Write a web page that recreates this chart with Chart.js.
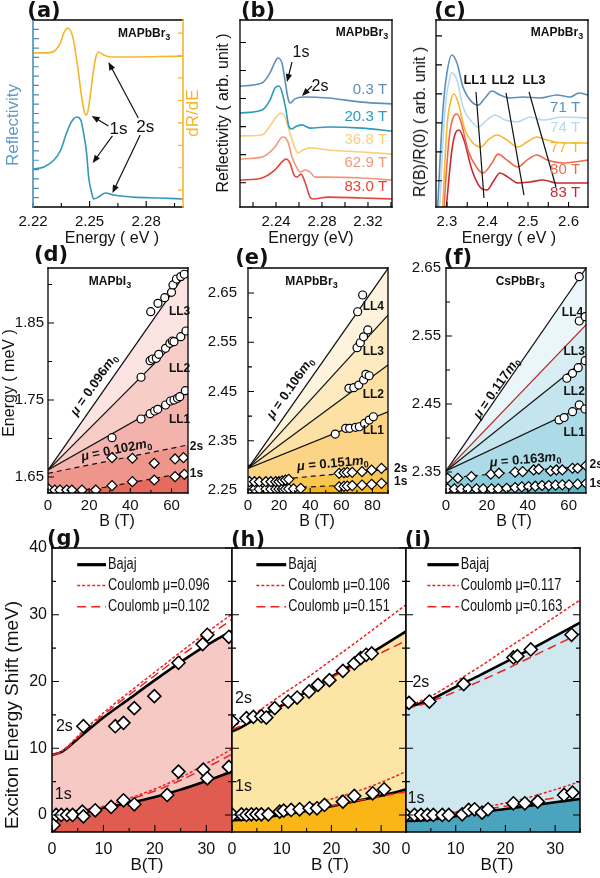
<!DOCTYPE html>
<html>
<head>
<meta charset="utf-8">
<script src="https://cdn.jsdelivr.net/npm/chart.js@4.4.1/dist/chart.umd.min.js"></script>
<style>
html,body{margin:0;padding:0;background:#fff;}
#wrap{position:relative;width:600px;height:878px;overflow:hidden;background:#fff;}
#wrap canvas{position:absolute;}
.t{position:absolute;white-space:nowrap;line-height:1;}
</style>
</head>
<body>
<div id="wrap"></div>
<script>
// ================= DATA =================
// (a) MAPbBr3: reflectivity and dR/dE (arb. units)
const aEnergyDeriv = [2.2203,2.2279,2.2321,2.2347,2.2363,2.2384,2.2411,2.2437,2.2458,2.2474,2.2484,2.2495,2.2516,2.2532,2.2547,2.2574,2.2610,2.2994];
const aDerivative  = [82.4,82.4,84.0,88.2,93.0,95.7,90.9,74.9,58.8,50.3,49.2,53.5,69.5,79.7,82.9,81.3,80.2,80.7];
const aEnergyRefl  = [2.2203,2.2258,2.2311,2.2347,2.2374,2.2400,2.2432,2.2453,2.2468,2.2484,2.2495,2.2511,2.2521,2.2547,2.2584,2.2626,2.2731,2.2873,2.2994];
const aReflectivity= [20.3,21.4,25.1,30.5,38.5,44.9,48.1,46.5,39.6,28.9,16.0,7.5,4.3,5.3,7.5,6.4,5.3,4.8,4.3];
const aXTicks = [2.22,2.235,2.25,2.265,2.28,2.295];
const aXLabels = [2.22,2.25,2.28];
const aYTicks = [5,10,15,20,25,30,35,40,45,50,55,60,65,70,75,80,85,90,95];
const aY2Ticks = [9,21,33,45,57,69,81,93];

// (b) MAPbBr3 reflectivity at several fields
const bFields = ['0.3 T','20.3 T','36.8 T','62.9 T','83.0 T'];
const bE03  = [2.2087,2.2278,2.2348,2.2391,2.2417,2.2452,2.2478,2.2504,2.2522,2.2565,2.2635,2.2852,2.3148,2.3409];
const bR03  = [64.7,66.3,71.7,77.5,79.7,77.0,67.9,58.3,55.6,57.8,58.8,58.3,56.1,55.1];
const bE203 = [2.2087,2.2278,2.2348,2.2391,2.2426,2.2452,2.2487,2.2513,2.2539,2.2565,2.2626,2.2696,2.2852,2.3148,2.3409];
const bR203 = [50.3,51.9,57.2,63.6,64.7,61.5,51.9,42.8,41.7,42.8,43.9,42.2,42.8,42.2,40.6];
const bE368 = [2.2087,2.2278,2.2365,2.2417,2.2444,2.2478,2.2522,2.2565,2.2591,2.2635,2.2696,2.2852,2.3148,2.3409];
const bR368 = [38.0,38.5,44.9,49.2,50.3,48.1,39.6,31.6,28.9,30.5,31.6,30.5,29.4,28.3];
const bE629 = [2.2087,2.2278,2.2391,2.2444,2.2461,2.2504,2.2539,2.2583,2.2609,2.2652,2.2696,2.2739,2.2852,2.3148,2.3409];
const bR629 = [25.7,26.7,32.1,36.9,37.4,34.8,26.7,20.9,18.7,19.8,18.7,16.0,16.0,15.5,14.4];
const bE830 = [2.2087,2.2278,2.2391,2.2452,2.2487,2.2522,2.2557,2.2583,2.2618,2.2652,2.2696,2.2722,2.2852,2.3148,2.3409];
const bR830 = [14.4,15.5,19.8,24.1,25.7,23.5,17.1,16.0,17.6,13.4,5.3,4.3,5.3,4.8,4.3];
const bXTicks = [2.22,2.24,2.26,2.28,2.30,2.32,2.34];
const bXLabels = [2.24,2.28,2.32];
const bYTicks = [13,28,43,58,73,88];

// (c) MAPbBr3 R(B)/R(0)
const cFields = ['71 T','74 T','77 T','80 T','83 T'];
const c71E = [2.2753,2.2901,2.3,2.3123,2.3247,2.3395,2.3617,2.3765,2.3938,2.4111,2.4309,2.4556,2.4877,2.5296,2.5716,2.6037,2.6259,2.6481];
const c71R = [-8,51.9,71.7,81.3,77.0,64.2,56.1,54.5,58.3,62.0,59.9,58.3,58.8,58.3,59.9,58.8,61.0,59.9];
const c74E = [2.2802,2.2951,2.3049,2.3123,2.3247,2.3395,2.3617,2.3765,2.3988,2.4185,2.4432,2.4728,2.5049,2.5370,2.5864,2.6481];
const c74R = [-8,51.9,66.8,71.7,67.9,53.5,45.5,42.8,46.5,49.2,46.5,45.5,48.1,46.5,48.1,47.6];
const c77E = [2.2877,2.3,2.3099,2.3173,2.3272,2.3444,2.3642,2.3840,2.4012,2.4235,2.4481,2.4753,2.4975,2.5222,2.5469,2.5864,2.6481];
const c77R = [-8,42.8,57.2,60.4,56.1,41.2,34.2,32.1,35.8,38.5,35.8,32.1,34.8,37.4,35.8,34.2,34.2];
const c80E = [2.2901,2.3049,2.3148,2.3247,2.3346,2.3518,2.3741,2.3889,2.4111,2.4259,2.4481,2.4753,2.4975,2.5222,2.5469,2.5864,2.6481];
const c80R = [-8,35.8,47.6,49.7,45.5,30.5,20.9,18.2,23.5,28.3,25.1,21.4,25.1,27.8,25.1,23.5,25.1];
const c83E = [2.2951,2.3123,2.3222,2.3296,2.3420,2.3617,2.3815,2.3988,2.4136,2.4309,2.4506,2.4753,2.5049,2.5370,2.5716,2.6481];
const c83R = [-8,30.5,40.1,41.2,35.8,19.8,10.7,9.1,13.4,18.2,16.0,12.8,13.4,14.4,12.8,12.8];
const cLL1E = [2.3716,2.3914], cLL1R = [61.5,4.8];
const cLL2E = [2.4457,2.4901], cLL2R = [61.0,6.4];
const cLL3E = [2.5025,2.5691], cLL3R = [61.5,10.7];
const cXTicks = [2.3,2.35,2.4,2.45,2.5,2.55,2.6];
const cXLabels = [2.3,2.4,2.5,2.6];
const cYTicks = [14,29.5,45,60.5,76,91.5];

// (d) MAPbI3 fan chart
const dLineB = [0,68];
const dLL3 = [1.659,1.919], dLL2 = [1.659,1.841], dLL1 = [1.659,1.762], d2sFit = [1.6548,1.6916];
const d1sFitB = [0,22,68], d1sFit = [1.632,1.634,1.656];
const dLL3B = [49.9,53.4,56.7,60.0,60.7,62.4,64.5,66.2];
const dLL3E = [1.8647,1.8755,1.8829,1.8898,1.8994,1.9071,1.9102,1.9133];
const dLL2B = [45.2,49.6,50.8,52.6,53.8,57.1,59.2,60.4,61.2,64.5,67.0];
const dLL2E = [1.7795,1.8011,1.8032,1.8041,1.8093,1.8171,1.8236,1.8266,1.8257,1.8322,1.8396];
const dLL1B = [31.1,45.2,49.6,51.8,53.3,57.1,59.5,61.2,62.9,64.0,66.7];
const dLL1E = [1.7010,1.7253,1.7322,1.7357,1.7379,1.7435,1.7487,1.75,1.7522,1.7543,1.7621];
const d2sB = [31.1,41.0,51.6,61.7,65.8];
const d2sE = [1.6751,1.6743,1.6678,1.6734,1.6751];
const d1sB = [0.3,3.3,5.8,9.1,11.6,16.5,23.2,31.1,41.0,51.6,61.7,66.2];
const d1sE = [1.6344,1.6331,1.6331,1.6331,1.6331,1.6331,1.6331,1.6387,1.6439,1.6461,1.6504,1.6535];
const dXTicks = [0,10,20,30,40,50,60], dXLabels = [0,20,40,60];
const dYTicks = [1.65,1.70,1.75,1.80,1.85,1.90], dYLabels = [1.65,1.75,1.85];

// (e) MAPbBr3 fan chart
const eLineB = [0,90];
const eLL4 = [2.2941,2.70], eLL3 = [2.2941,2.6053], eLL2 = [2.2941,2.5038], eLL1 = [2.2941,2.409];
const e2sFit = [2.266,2.292], e1sFit = [2.251,2.2635];
const eLL4B = [70.5,73.7], eLL4E = [2.612,2.646];
const eLL3B = [70.1,72.2,74.3,77.0], eLL3E = [2.539,2.549,2.561,2.575];
const eLL2B = [64.9,68.0,71.2,74.3,75.8,77.9], eLL2E = [2.4565,2.4578,2.4632,2.4734,2.485,2.482];
const eLL1B = [56.1,62.8,65.3,69.1,71.6,74.9,77.9,80.6], eLL1E = [2.3637,2.3753,2.3753,2.3773,2.3785,2.3853,2.3921,2.3988];
const e2sB = [1.0,4.2,7.3,11.5,14.7,17.8,19.9,22.0,24.1,26.2,58.6,61.7,63.8,67.0,73.3,79.5,85.8];
const e2sE = [2.2669,2.2669,2.2669,2.2669,2.2669,2.2669,2.2669,2.2689,2.2703,2.2717,2.2839,2.2851,2.2860,2.2860,2.2873,2.2906,2.2940];
const e1sB = [1.0,4.2,7.3,11.5,14.7,17.8,19.9,22.0,24.1,26.2,29.3,33.9,58.6,61.7,63.8,67.0,73.3,79.5,85.8];
const e1sE = [2.252,2.252,2.252,2.252,2.252,2.252,2.252,2.252,2.252,2.2525,2.2525,2.2534,2.2567,2.2575,2.2580,2.2590,2.2600,2.2616,2.2636];
const eXTicks = [0,10,20,30,40,50,60,70,80,90], eXLabels = [0,20,40,60,80];
const eYTicks = [2.25,2.30,2.35,2.40,2.45,2.50,2.55,2.60,2.65,2.70], eYLabels = [2.25,2.35,2.45,2.55,2.65];

// (f) CsPbBr3 fan chart
const fLineB = [0,68.5];
const fLL4 = [2.3515,2.6496], fLL3 = [2.3515,2.5662], fLL2 = [2.3515,2.5162], fLL1 = [2.3515,2.4485];
const f2sFit = [2.3407,2.3593], f1sFit = [2.325,2.3334];
const fLL4B = [65.2], fLL4E = [2.6372];
const fLL3B = [65.2,68.1], fLL3E = [2.572,2.5784];
const fLL2B = [59.1,61.9,64.7,68.1], fLL2E = [2.4878,2.4951,2.5034,2.5137];
const fLL1B = [55.3,57.8,61.9,65.2,68.0], fLL1E = [2.4265,2.4299,2.4387,2.4485,2.4426];
const f2sB = [0.8,5.8,12.4,21.9,25.9,33.8,37.5,42.9,45.4,51.2,54.0,56.9,61.9,64.4,68.5];
const f2sE = [2.3407,2.3407,2.3431,2.3466,2.3481,2.3496,2.3504,2.3529,2.3540,2.3515,2.3529,2.3529,2.3554,2.3554,2.3593];
const f1sB = [0.8,4.1,7.4,10.7,14.9,18.2,22.3,25.6,29.7,33.8,37.1,40.4,43.7,47.0,50.3,53.6,56.9,60.2,64.4,68.5];
const f1sE = [2.325,2.325,2.325,2.325,2.325,2.325,2.325,2.325,2.326,2.327,2.328,2.3285,2.329,2.33,2.33,2.3305,2.331,2.331,2.332,2.333];
const fXTicks = [0,10,20,30,40,50,60], fXLabels = [0,20,40,60];
const fYTicks = [2.35,2.40,2.45,2.50,2.55,2.60,2.65], fYLabels = [2.35,2.45,2.55,2.65];

// (g)(h)(i) exciton energy shift vs B
const sXTicks = [0,5,10,15,20,25,30,35], sXLabels = [0,10,20,30];
const sYTicks = [0,5,10,15,20,25,30,35,40], sYLabels = [0,10,20,30,40];
const curveB = [0,2,5,10,15,20,25,30,35];
// (g) MAPbI3
const gB2s = [6.1,12.3,13.9,16.0,19.9,24.6,29.3,30.2,34.4];
const gS2s = [13.3,13.3,13.8,16.0,17.8,22.8,25.6,27.0,26.7];
const gB1s = [0.3,0.8,1.8,2.9,4.0,5.9,6.1,8.4,11.5,13.9,16.0,22.4,24.6,29.4,30.2,34.4];
const gS1s = [-1.5,0,0,0,0,0.5,-0.2,0.7,1.2,2.2,1.6,3.0,6.5,6.8,5.5,7.2];
const gBajaj2s = [9.0,9.5,11.4,14.6,17.4,20.2,22.9,25.4,27.6];
const gC096_2s = [9.0,9.6,11.8,15.3,18.4,21.4,24.4,27.3,30.1];
const gC102_2s = [9.0,9.5,11.6,15.0,18.0,20.9,23.8,26.6,29.3];
const gBajaj1s = [0.3,0.3,0.5,1.1,1.8,2.7,3.8,5.1,6.5];
const gC096_1s = [0.3,0.3,0.6,1.3,2.5,3.9,5.6,7.7,9.9];
const gC102_1s = [0.3,0.3,0.5,1.2,2.3,3.6,5.2,7.1,9.1];
// (h) MAPbBr3
const hB2s = [0.1,2.9,4.3,5.9,6.9,8.6,11.3,13.1,15.5,17.3,19.6,22.3,24.6,25.9,27.0,28.1];
const hS2s = [14.0,14.5,14.7,14.8,14.6,16.0,17.0,17.6,18.5,19.5,20.2,21.6,22.7,23.5,24.0,24.2];
const hB1s = [0.1,1.9,2.9,3.9,4.9,5.9,7.3,9.6,10.4,11.9,13.6,15.6,17.1,18.6,22.3,24.6,28.3,30.6];
const hS1s = [0.0,0.1,0.0,0.1,0.1,0.1,0.1,0.5,0.65,0.75,0.85,1.0,1.0,1.5,2.0,2.85,3.25,3.85];
const hBajaj2s = [12.5,13.2,14.5,16.4,18.5,20.7,22.9,25.2,27.5];
const hC106_2s = [13.2,14.0,15.4,18.0,20.5,23.2,25.9,28.7,31.5];
const hC151_2s = [12.8,13.4,14.6,16.5,18.6,20.6,22.5,24.3,26.1];
const hBajaj1s = [-0.8,-0.7,-0.5,0.0,0.6,1.3,2.1,2.9,3.8];
const hC106_1s = [0.0,0.05,0.2,0.7,1.4,2.4,3.5,4.9,6.5];
const hC151_1s = [0.0,0.05,0.15,0.5,0.9,1.4,2.1,2.8,3.5];
// (i) CsPbBr3
const iB2s = [0.6,4.7,11.6,21.6,22.4,25.1,33.3];
const iS2s = [16.8,17.0,19.6,23.6,23.8,24.8,27.0];
const iB1s = [0,1.7,3.0,4.3,5.5,7.3,8.6,11.3,12.6,13.8,15.3,16.5,21.6,23.9,26.5,31.8,33.5];
const iS1s = [0,0,0,0,0,0,0,0.1,0.75,0.85,0.35,0.85,1.75,1.75,2.0,3.0,3.35];
const iBajaj2s = [16.0,16.5,17.3,19.2,21.0,22.9,24.8,26.8,28.8];
const iC117_2s = [16.2,16.8,17.8,20.0,22.3,24.8,27.2,29.7,32.2];
const iC163_2s = [16.0,16.3,17.0,18.5,20.1,21.8,23.6,25.4,27.2];
const iBajaj1s = [-0.9,-0.85,-0.7,-0.2,0.4,0.9,1.4,1.9,2.4];
const iC117_1s = [0,0.05,0.15,0.5,1.1,1.8,2.7,3.8,5.0];
const iC163_1s = [0,0.05,0.1,0.4,0.8,1.3,1.9,2.6,3.3];

// ================= HELPERS =================
const wrap = document.getElementById('wrap');
const FONT = "'Liberation Sans', Arial, Helvetica, sans-serif";
const REG = {};
const near = (list, v) => list.some(m => Math.abs(m - v) < 1e-6);
const xy = (xs, ys) => xs.map((x, i) => ({x: x, y: ys[i]}));

function axis(pos, min, max, tickVals, labelVals, dec, fixed, pad, size) {
  return {
    type: 'linear', position: pos, min: min, max: max, bounds: 'data',
    grid: {display: false, drawTicks: false}, border: {display: false},
    afterBuildTicks: s => { s.ticks = tickVals.map(v => ({value: v})); },
    afterFit: s => {
      if (pos === 'bottom') s.height = fixed; else s.width = fixed;
      s.paddingLeft = 0; s.paddingRight = 0; s.paddingTop = 0; s.paddingBottom = 0;
    },
    ticks: {
      display: labelVals.length > 0, autoSkip: false, maxRotation: 0, minRotation: 0,
      padding: pad, color: '#111', font: {family: FONT, size: size || 15},
      callback: v => near(labelVals, v) ? Number(v).toFixed(dec) : ''
    }
  };
}

function parseRich(s) {
  const parts = []; let it = false, buf = '';
  for (let i = 0; i < s.length; i++) {
    const c = s[i];
    if (c === '*') { if (buf) parts.push({s: buf, it: it}); buf = ''; it = !it; }
    else if (c === '_') { if (buf) parts.push({s: buf, it: it}); buf = ''; parts.push({s: s[i + 1], sub: true}); i++; }
    else buf += c;
  }
  if (buf) parts.push({s: buf, it: it});
  return parts;
}

function drawRich(ctx, str, x, y, o) {
  const parts = parseRich(str), size = o.size || 14, wt = o.bold ? 'bold ' : '';
  ctx.save(); ctx.translate(x, y); if (o.rot) ctx.rotate(o.rot); if (o.sx) ctx.scale(o.sx, 1);
  const fonts = parts.map(p => (p.it ? 'italic ' : '') + wt + (p.sub ? Math.round(size * 0.72) : size) + 'px ' + FONT);
  let W = 0;
  const ws = parts.map((p, i) => { ctx.font = fonts[i]; const w = ctx.measureText(p.s).width; W += w; return w; });
  let cx = o.align === 'left' ? 0 : o.align === 'right' ? -W : -W / 2;
  ctx.fillStyle = o.color || '#111'; ctx.textBaseline = 'middle'; ctx.textAlign = 'left';
  parts.forEach((p, i) => { ctx.font = fonts[i]; ctx.fillText(p.s, cx, p.sub ? size * 0.32 : 0); cx += ws[i]; });
  ctx.restore();
}

function arrowHead(ctx, x1, y1, x2, y2, color) {
  const ang = Math.atan2(y2 - y1, x2 - x1), L = 8, H = 3.2;
  ctx.strokeStyle = color; ctx.fillStyle = color; ctx.lineWidth = 1.2;
  ctx.beginPath(); ctx.moveTo(x1, y1); ctx.lineTo(x2 - 5 * Math.cos(ang), y2 - 5 * Math.sin(ang)); ctx.stroke();
  ctx.beginPath(); ctx.moveTo(x2, y2);
  ctx.lineTo(x2 - L * Math.cos(ang) + H * Math.sin(ang), y2 - L * Math.sin(ang) - H * Math.cos(ang));
  ctx.lineTo(x2 - L * Math.cos(ang) - H * Math.sin(ang), y2 - L * Math.sin(ang) + H * Math.cos(ang));
  ctx.closePath(); ctx.fill();
}

const deco = {
  id: 'deco',
  afterDraw(chart) {
    const R = REG[chart.canvas.id]; if (!R) return;
    const ctx = chart.ctx, ca = chart.chartArea, X = chart.scales.x, Y = chart.scales.y;
    ctx.save();
    ctx.lineCap = 'butt';
    for (const key of Object.keys(R.ticks)) {
      const s = chart.scales[key], T = R.ticks[key];
      ctx.strokeStyle = T.color || '#000'; ctx.lineWidth = T.w || 1.1; ctx.beginPath();
      for (const t of s.ticks) {
        if (t.value < s.min - 1e-9 || t.value > s.max + 1e-9) continue;
        const p = s.getPixelForValue(t.value);
        const L = (!T.maj || near(T.maj, t.value)) ? T.len : T.minor;
        if (s.isHorizontal()) {
          ctx.moveTo(p, ca.bottom); ctx.lineTo(p, ca.bottom - L);
          if (T.mirror) { ctx.moveTo(p, ca.top); ctx.lineTo(p, ca.top + L); }
        } else if (s.position === 'left') {
          ctx.moveTo(ca.left, p); ctx.lineTo(ca.left + L, p);
          if (T.mirror) { ctx.moveTo(ca.right, p); ctx.lineTo(ca.right - L, p); }
        } else {
          ctx.moveTo(ca.right, p); ctx.lineTo(ca.right - L, p);
        }
      }
      ctx.stroke();
    }
    const B = R.box; ctx.lineWidth = B.w || 1.2; ctx.lineCap = 'square';
    const seg = (c, x1, y1, x2, y2) => { ctx.strokeStyle = c; ctx.beginPath(); ctx.moveTo(x1, y1); ctx.lineTo(x2, y2); ctx.stroke(); };
    seg(B.top || '#000', ca.left, ca.top, ca.right, ca.top);
    seg(B.bottom || '#000', ca.left, ca.bottom, ca.right, ca.bottom);
    seg(B.left || '#000', ca.left, ca.top, ca.left, ca.bottom);
    seg(B.right || '#000', ca.right, ca.top, ca.right, ca.bottom);
    ctx.lineCap = 'butt';
    for (const a of (R.ann || [])) {
      if (a.k === 't') {
        let rot = 0;
        if (a.along) {
          const dx = X.getPixelForValue(a.along[2]) - X.getPixelForValue(a.along[0]);
          const dy = Y.getPixelForValue(a.along[3]) - Y.getPixelForValue(a.along[1]);
          rot = Math.atan2(dy, dx);
        }
        drawRich(ctx, a.s, X.getPixelForValue(a.x), Y.getPixelForValue(a.y), {size: a.size, bold: a.bold, color: a.color, align: a.align, rot: rot});
      } else if (a.k === 'a') {
        arrowHead(ctx, X.getPixelForValue(a.x1), Y.getPixelForValue(a.y1), X.getPixelForValue(a.x2), Y.getPixelForValue(a.y2), a.color || '#111');
      } else if (a.k === 'leg') {
        ctx.save(); ctx.strokeStyle = a.color; ctx.lineWidth = a.w; ctx.setLineDash(a.dash || []);
        const py = Y.getPixelForValue(a.y);
        ctx.beginPath(); ctx.moveTo(X.getPixelForValue(a.x1), py); ctx.lineTo(X.getPixelForValue(a.x2), py); ctx.stroke();
        ctx.restore();
        drawRich(ctx, a.s, X.getPixelForValue(a.tx), py, {size: 16, align: 'left', color: '#111', sx: 0.8});
      }
    }
    ctx.restore();
  }
};

function panel(id, plot, pad, scales, datasets, reg) {
  const w = plot[2] - plot[0] + pad[0] + pad[2];
  const h = plot[3] - plot[1] + pad[1] + pad[3];
  const cv = document.createElement('canvas');
  cv.id = id; cv.width = w; cv.height = h;
  cv.style.left = (plot[0] - pad[0]) + 'px'; cv.style.top = (plot[1] - pad[1]) + 'px';
  cv.style.width = w + 'px'; cv.style.height = h + 'px';
  wrap.appendChild(cv);
  REG[id] = reg;
  new Chart(cv, {
    type: 'line',
    data: {datasets: datasets},
    options: {
      responsive: false, maintainAspectRatio: false, animation: false, devicePixelRatio: 1, events: [],
      layout: {autoPadding: false, padding: {left: 0, top: pad[1], right: scales.y2 ? 0 : pad[2], bottom: 0}},
      plugins: {legend: {display: false}, tooltip: {enabled: false}},
      scales: scales
    },
    plugins: [deco]
  });
}

function curve(xs, ys, color, o) {
  return Object.assign({data: xy(xs, ys), borderColor: color, borderWidth: 1.6, pointRadius: 0, pointHoverRadius: 0,
    fill: false, cubicInterpolationMode: 'monotone'}, o || {});
}
function straight(xs, ys, color, o) {
  return Object.assign({data: xy(xs, ys), borderColor: color, borderWidth: 1.2, pointRadius: 0, pointHoverRadius: 0,
    fill: false, tension: 0}, o || {});
}
function marks(xs, ys, style, r, bw) {
  return {data: xy(xs, ys), showLine: false, pointStyle: style, pointRadius: r, pointHoverRadius: r,
    pointBackgroundColor: '#fff', pointBorderColor: '#000', pointBorderWidth: bw || 1.2, fill: false};
}

// ================= PANELS =================
// (a)
const TEAL = '#3399bb', ORANGE = '#f5b62c';
panel('pa', [33, 20, 183, 207], [33, 20, 8, 28], {
  x: axis('bottom', 2.22, 2.2995, aXTicks, aXLabels, 2, 28, 6, 15),
  y: axis('left', 0, 100, aYTicks, [], 0, 33, 0, 15),
  y2: axis('right', 0, 100, aY2Ticks, [], 0, 8, 0, 15)
}, [
  curve(aEnergyDeriv, aDerivative, ORANGE),
  curve(aEnergyRefl, aReflectivity, TEAL)
], {
  ticks: {x: {len: 6, minor: 4, maj: [2.25, 2.28]}, y: {len: 6, color: '#4a90b5', w: 1.2}, y2: {len: 5, color: ORANGE, w: 1.2}},
  box: {left: '#4a90b5', right: ORANGE, w: 1.6},
  ann: [
    {k: 't', x: 2.2789, y: 92.5, s: 'MAPbBr_3', size: 12, bold: 1},
    {k: 't', x: 2.2653, y: 41.7, s: '1s', size: 17},
    {k: 't', x: 2.2795, y: 42.8, s: '2s', size: 17},
    {k: 'a', x1: 2.2600, y1: 43.3, x2: 2.2511, y2: 48.7},
    {k: 'a', x1: 2.2621, y1: 38.0, x2: 2.2516, y2: 23.5},
    {k: 'a', x1: 2.2758, y1: 47.6, x2: 2.2600, y2: 77.5},
    {k: 'a', x1: 2.2768, y1: 38.5, x2: 2.2621, y2: 7.5}
  ]
});

// (b)
const bCol = ['#5f8fb8', '#2b9cc0', '#f8d07a', '#f3977a', '#e2463a'];
panel('pb', [240, 20, 392, 207], [24, 20, 6, 28], {
  x: axis('bottom', 2.2087, 2.3409, bXTicks, bXLabels, 2, 28, 6, 15),
  y: axis('left', 0, 100, bYTicks, [], 0, 24, 0, 15)
}, [
  curve(bE03, bR03, bCol[0]), curve(bE203, bR203, bCol[1]), curve(bE368, bR368, bCol[2]),
  curve(bE629, bR629, bCol[3]), curve(bE830, bR830, bCol[4])
], {
  ticks: {x: {len: 5, minor: 5}, y: {len: 6}},
  box: {w: 1.3},
  ann: [
    {k: 't', x: 2.3148, y: 93.0, s: 'MAPbBr_3', size: 12, bold: 1},
    {k: 't', x: 2.3366, y: 62.6, s: bFields[0], size: 15, align: 'right', color: bCol[0]},
    {k: 't', x: 2.3366, y: 48.1, s: bFields[1], size: 15, align: 'right', color: bCol[1]},
    {k: 't', x: 2.3366, y: 35.8, s: bFields[2], size: 15, align: 'right', color: bCol[2]},
    {k: 't', x: 2.3366, y: 23.5, s: bFields[3], size: 15, align: 'right', color: bCol[3]},
    {k: 't', x: 2.3366, y: 10.7, s: bFields[4], size: 15, align: 'right', color: bCol[4]},
    {k: 't', x: 2.2618, y: 82.4, s: '1s', size: 16},
    {k: 't', x: 2.2783, y: 64.2, s: '2s', size: 16},
    {k: 'a', x1: 2.2539, y1: 77.5, x2: 2.2496, y2: 66.8},
    {k: 'a', x1: 2.2713, y1: 64.7, x2: 2.2626, y2: 59.4}
  ]
});

// (c)
const cCol = ['#5b90bc', '#b5daee', '#f6b832', '#ee6a4e', '#c62a2f'];
panel('pc', [436, 20, 588, 207], [14, 20, 10, 28], {
  x: axis('bottom', 2.273, 2.648, cXTicks, cXLabels, 1, 28, 6, 15),
  y: axis('left', 0, 100, cYTicks, [], 0, 14, 0, 15)
}, [
  straight(cLL1E, cLL1R, '#111'), straight(cLL2E, cLL2R, '#111'), straight(cLL3E, cLL3R, '#111'),
  curve(c71E, c71R, cCol[0]), curve(c74E, c74R, cCol[1]), curve(c77E, c77R, cCol[2]),
  curve(c80E, c80R, cCol[3]), curve(c83E, c83R, cCol[4])
], {
  ticks: {x: {len: 5, minor: 5}, y: {len: 6}},
  box: {w: 1.3},
  ann: [
    {k: 't', x: 2.5716, y: 93.0, s: 'MAPbBr_3', size: 12, bold: 1},
    {k: 't', x: 2.3691, y: 67.9, s: 'LL1', size: 13, bold: 1},
    {k: 't', x: 2.4383, y: 67.9, s: 'LL2', size: 13, bold: 1},
    {k: 't', x: 2.5148, y: 67.9, s: 'LL3', size: 13, bold: 1},
    {k: 't', x: 2.6284, y: 52.9, s: cFields[0], size: 15, align: 'right', color: cCol[0]},
    {k: 't', x: 2.6284, y: 42.2, s: cFields[1], size: 15, align: 'right', color: cCol[1]},
    {k: 't', x: 2.6284, y: 31.6, s: cFields[2], size: 15, align: 'right', color: cCol[2]},
    {k: 't', x: 2.6284, y: 19.8, s: cFields[3], size: 15, align: 'right', color: cCol[3]},
    {k: 't', x: 2.6284, y: 7.5, s: cFields[4], size: 15, align: 'right', color: cCol[4]}
  ]
});

const DASH = [5, 4];
// (d)
panel('pd', [48, 268, 188, 493], [48, 20, 22, 22], {
  x: axis('bottom', 0, 68, dXTicks, dXLabels, 0, 22, 4, 15),
  y: axis('left', 1.6292, 1.9214, dYTicks, dYLabels, 2, 48, 4, 15)
}, [
  marks(dLL3B, dLL3E, 'circle', 4), marks(dLL2B, dLL2E, 'circle', 4), marks(dLL1B, dLL1E, 'circle', 4),
  marks(d2sB, d2sE, 'rectRot', 5), marks(d1sB, d1sE, 'rectRot', 5),
  straight(d1sFitB, d1sFit, '#111', {borderDash: DASH, fill: 'start', backgroundColor: '#e66a5e'}),
  straight(dLineB, d2sFit, '#111', {borderDash: DASH, fill: 'start', backgroundColor: '#ee958c'}),
  straight(dLineB, dLL1, '#111', {fill: 'start', backgroundColor: '#f3b3ac'}),
  straight(dLineB, dLL2, '#111', {fill: 'start', backgroundColor: '#f7cdc8'}),
  straight(dLineB, dLL3, '#111', {fill: 'start', backgroundColor: '#fbe4e1'})
], {
  ticks: {x: {len: 5, minor: 3, maj: dXLabels}, y: {len: 6, minor: 4, maj: dYLabels}},
  box: {w: 1.3},
  ann: [
    {k: 't', x: 30.1, y: 1.9036, s: 'MAPbI_3', size: 12, bold: 1},
    {k: 't', x: 22.4, y: 1.7695, s: '*μ* = 0.096*m*_0', size: 13, bold: 1, along: [0, 1.659, 68, 1.919]},
    {k: 't', x: 33.2, y: 1.685, s: '*μ* = 0.102*m*_0', size: 13, bold: 1, along: [0, 1.6548, 68, 1.6916]},
    {k: 't', x: 63.9, y: 1.8647, s: 'LL3', size: 12, bold: 1},
    {k: 't', x: 63.9, y: 1.7912, s: 'LL2', size: 12, bold: 1},
    {k: 't', x: 63.9, y: 1.724, s: 'LL1', size: 12, bold: 1},
    {k: 't', x: 68.9, y: 1.6894, s: '2s', size: 12, bold: 1, align: 'left'},
    {k: 't', x: 68.9, y: 1.6548, s: '1s', size: 12, bold: 1, align: 'left'}
  ]
});

// (e)
panel('pe', [248, 268, 388, 493], [40, 20, 24, 22], {
  x: axis('bottom', 0, 90, eXTicks, eXLabels, 0, 22, 4, 15),
  y: axis('left', 2.244, 2.7008, eYTicks, eYLabels, 2, 40, 11, 15)
}, [
  marks(eLL4B, eLL4E, 'circle', 4), marks(eLL3B, eLL3E, 'circle', 4), marks(eLL2B, eLL2E, 'circle', 4), marks(eLL1B, eLL1E, 'circle', 4),
  marks(e2sB, e2sE, 'rectRot', 5), marks(e1sB, e1sE, 'rectRot', 5),
  straight(eLineB, e1sFit, '#111', {borderDash: DASH, fill: 'start', backgroundColor: '#f7b41e'}),
  straight(eLineB, e2sFit, '#111', {borderDash: DASH, fill: 'start', backgroundColor: '#f9c651'}),
  straight(eLineB, eLL1, '#111', {fill: 'start', backgroundColor: '#fbd585'}),
  straight(eLineB, eLL2, '#111', {fill: 'start', backgroundColor: '#fce0a4'}),
  straight(eLineB, eLL3, '#111', {fill: 'start', backgroundColor: '#fdeac1'}),
  straight(eLineB, eLL4, '#111', {fill: 'start', backgroundColor: '#fef4de'})
], {
  ticks: {x: {len: 5, minor: 3, maj: eXLabels}, y: {len: 6, minor: 4, maj: eYLabels}},
  box: {w: 1.3},
  ann: [
    {k: 't', x: 40.8, y: 2.673, s: 'MAPbBr_3', size: 12, bold: 1},
    {k: 't', x: 27.2, y: 2.4565, s: '*μ* = 0.106*m*_0', size: 13, bold: 1, along: [0, 2.2941, 90, 2.70]},
    {k: 't', x: 54.4, y: 2.3035, s: '*μ* = 0.151*m*_0', size: 13, bold: 1, along: [0, 2.266, 90, 2.292]},
    {k: 't', x: 80.6, y: 2.622, s: 'LL4', size: 12, bold: 1},
    {k: 't', x: 80.6, y: 2.5308, s: 'LL3', size: 12, bold: 1},
    {k: 't', x: 80.6, y: 2.4429, s: 'LL2', size: 12, bold: 1},
    {k: 't', x: 80.6, y: 2.3698, s: 'LL1', size: 12, bold: 1},
    {k: 't', x: 93.9, y: 2.2941, s: '2s', size: 12, bold: 1, align: 'left'},
    {k: 't', x: 93.9, y: 2.2669, s: '1s', size: 12, bold: 1, align: 'left'}
  ]
});

// (f)
panel('pf', [446, 268, 586, 493], [40, 20, 14, 22], {
  x: axis('bottom', 0, 68.5, fXTicks, fXLabels, 0, 22, 4, 15),
  y: axis('left', 2.319, 2.65, fYTicks, fYLabels, 2, 40, 5, 15)
}, [
  marks(fLL4B, fLL4E, 'circle', 4), marks(fLL3B, fLL3E, 'circle', 4), marks(fLL2B, fLL2E, 'circle', 4), marks(fLL1B, fLL1E, 'circle', 4),
  marks(f2sB, f2sE, 'rectRot', 5), marks(f1sB, f1sE, 'rectRot', 5),
  straight(fLineB, f1sFit, '#111', {borderDash: DASH, fill: 'start', backgroundColor: '#5cb6cb'}),
  straight(fLineB, f2sFit, '#111', {borderDash: DASH, fill: 'start', backgroundColor: '#8ccbdb'}),
  straight(fLineB, fLL1, '#111', {fill: 'start', backgroundColor: '#acdae6'}),
  straight(fLineB, fLL2, '#111', {fill: 'start', backgroundColor: '#c4e5ee'}),
  straight(fLineB, fLL3, '#b3261e', {fill: 'start', backgroundColor: '#d8eef4'}),
  straight(fLineB, fLL4, '#111', {fill: 'start', backgroundColor: '#eaf6f9'})
], {
  ticks: {x: {len: 5, minor: 3, maj: fXLabels}, y: {len: 6, minor: 4, maj: fYLabels}},
  box: {w: 1.3},
  ann: [
    {k: 't', x: 36.3, y: 2.630, s: 'CsPbBr_3', size: 12, bold: 1},
    {k: 't', x: 24.8, y: 2.473, s: '*μ* = 0.117*m*_0', size: 13, bold: 1, along: [0, 2.3515, 68.5, 2.6496]},
    {k: 't', x: 38.8, y: 2.3676, s: '*μ* = 0.163*m*_0', size: 13, bold: 1, along: [0, 2.3407, 68.5, 2.3593]},
    {k: 't', x: 61.9, y: 2.584, s: 'LL4', size: 12, bold: 1},
    {k: 't', x: 62.7, y: 2.527, s: 'LL3', size: 12, bold: 1},
    {k: 't', x: 62.7, y: 2.468, s: 'LL2', size: 12, bold: 1},
    {k: 't', x: 62.7, y: 2.407, s: 'LL1', size: 12, bold: 1},
    {k: 't', x: 70.2, y: 2.3603, s: '2s', size: 12, bold: 1, align: 'left'},
    {k: 't', x: 70.2, y: 2.3334, s: '1s', size: 12, bold: 1, align: 'left'}
  ]
});

// shift panels (g)(h)(i)
const RED = '#ee2222', SHORT = [3, 2], LONG = [9, 5];
function shiftPanel(id, plot, pad, showY, d, legX, mu1, mu2, lab, cols) {
  panel(id, plot, pad, {
    x: axis('bottom', 0, 35, sXTicks, sXLabels, 0, 30, 8, 16),
    y: axis('left', -2.55, 40, sYTicks, showY ? sYLabels : [], 0, pad[0], 5, 16)
  }, [
    marks(d.b2, d.s2, 'rectRot', 6.5, 1.6), marks(d.b1, d.s1, 'rectRot', 6.5, 1.6),
    curve(curveB, d.cs2, RED, {borderWidth: 1.5, borderDash: SHORT}),
    curve(curveB, d.cl2, RED, {borderWidth: 1.5, borderDash: LONG}),
    curve(curveB, d.cs1, RED, {borderWidth: 1.5, borderDash: SHORT}),
    curve(curveB, d.cl1, RED, {borderWidth: 1.5, borderDash: LONG}),
    curve(curveB, d.bj1, '#000', {borderWidth: 2.6, fill: 'start', backgroundColor: cols[1]}),
    curve(curveB, d.bj2, '#000', {borderWidth: 2.6, fill: 'start', backgroundColor: cols[0]})
  ], {
    ticks: {x: {len: 7, minor: 4, maj: sXLabels}, y: {len: 7, minor: 4, maj: sYLabels, mirror: true}},
    box: {w: 1.5},
    ann: [
      {k: 'leg', x1: legX[0], x2: legX[1], tx: legX[2], y: 37.5, w: 3.2, color: '#000', s: 'Bajaj'},
      {k: 'leg', x1: legX[0], x2: legX[1], tx: legX[2], y: 34.4, w: 1.5, color: RED, dash: SHORT, s: 'Coulomb μ=' + mu1},
      {k: 'leg', x1: legX[0], x2: legX[1], tx: legX[2], y: 31.2, w: 1.5, color: RED, dash: LONG, s: 'Coulomb μ=' + mu2},
      {k: 't', x: lab[0], y: lab[1], s: '2s', size: 16, align: 'center'},
      {k: 't', x: lab[2], y: lab[3], s: '1s', size: 16, align: 'center'}
    ]
  });
}
shiftPanel('pg', [52, 548, 232, 832], [52, 10, 0, 30], true,
  {b2: gB2s, s2: gS2s, b1: gB1s, s1: gS1s, bj2: gBajaj2s, cs2: gC096_2s, cl2: gC102_2s, bj1: gBajaj1s, cs1: gC096_1s, cl1: gC102_1s},
  [4.9, 10.5, 10.9], '0.096', '0.102', [2.4, 13.2, 2.2, 3.0], ['#f6c9c4', '#e15c50']);
shiftPanel('ph', [232, 548, 406, 832], [10, 10, 0, 30], false,
  {b2: hB2s, s2: hS2s, b1: hB1s, s1: hS1s, bj2: hBajaj2s, cs2: hC106_2s, cl2: hC151_2s, bj1: hBajaj1s, cs1: hC106_1s, cl1: hC151_1s},
  [4.9, 10.9, 11.3], '0.106', '0.151', [2.3, 17.4, 2.3, 4.2], ['#fde5a6', '#fab517']);
shiftPanel('pi', [406, 548, 580, 832], [10, 10, 20, 30], false,
  {b2: iB2s, s2: iS2s, b1: iB1s, s1: iS1s, bj2: iBajaj2s, cs2: iC117_2s, cl2: iC163_2s, bj1: iBajaj1s, cs1: iC117_1s, cl1: iC163_1s},
  [4.3, 10.6, 11.0], '0.117', '0.163', [3.0, 19.9, 2.0, 2.5], ['#cfe8f0', '#4ba4be']);

// ================= TEXT (titles, panel letters) =================
function txt(s, x, y, o) {
  o = o || {};
  const d = document.createElement('div'); d.className = 't'; d.textContent = s;
  d.style.left = x + 'px'; d.style.top = y + 'px';
  d.style.fontFamily = o.fam || FONT; d.style.fontSize = (o.size || 16) + 'px';
  d.style.fontWeight = o.w || 'normal'; d.style.color = o.color || '#111';
  d.style.transform = 'translate(-50%,-50%)' + (o.rot ? ' rotate(-90deg)' : '');
  wrap.appendChild(d);
}
const PL = {fam: "'DejaVu Sans', sans-serif", size: 21, w: 'bold'};
txt('(a)', 44, 10, PL); txt('(b)', 258, 10, PL); txt('(c)', 450, 10, PL);
txt('(d)', 51, 254, PL); txt('(e)', 252, 257, PL); txt('(f)', 458, 257, PL);
txt('(g)', 64, 538, PL); txt('(h)', 248, 539, PL); txt('(i)', 418, 539, PL);

txt('Reflectivity', 12, 125, {size: 17, rot: 1, color: '#5b9cc6'});
txt('dR/dE', 192, 113, {size: 17, rot: 1, color: '#f5b42a'});
txt('Energy ( eV )', 112, 238, {size: 16});
txt('Reflectivity ( arb. unit )', 223, 113, {size: 16, rot: 1});
txt('Energy (eV)', 311, 238, {size: 16});
txt('R(B)/R(0) ( arb. unit )', 420, 122, {size: 16, rot: 1});
txt('Energy ( eV )', 509, 238, {size: 16});
txt('Energy ( meV )', 9, 383, {size: 16, rot: 1});
txt('B  (T)', 117, 521, {size: 16}); txt('B  (T)', 317, 521, {size: 16}); txt('B  (T)', 514, 521, {size: 16});
txt('Exciton Energy Shift (meV)', 11, 715, {size: 19, rot: 1});
txt('B(T)', 147, 864, {size: 17}); txt('B (T)', 330, 864, {size: 17}); txt('B(T)', 497, 864, {size: 17});
</script>
</body>
</html>
